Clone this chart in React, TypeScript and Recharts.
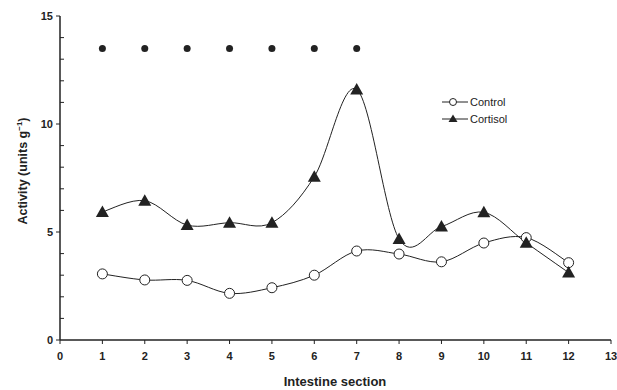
import React from 'react';
import { LineChart, Line, XAxis, YAxis, Legend, Label } from 'recharts';

const sections = [1, 2, 3, 4, 5, 6, 7, 8, 9, 10, 11, 12];
const control = [3.06, 2.78, 2.76, 2.16, 2.42, 3.0, 4.12, 3.98, 3.62, 4.49, 4.74, 3.58];
const cortisol = [5.93, 6.45, 5.32, 5.43, 5.43, 7.56, 11.6, 4.68, 5.25, 5.91, 4.5, 3.12];
const significant = [13.5, 13.5, 13.5, 13.5, 13.5, 13.5, 13.5, null, null, null, null, null];
const xTicks = [0, 1, 2, 3, 4, 5, 6, 7, 8, 9, 10, 11, 12, 13];
const yTicks = [0, 1, 2, 3, 4, 5, 6, 7, 8, 9, 10, 11, 12, 13, 14, 15];

const data = sections.map((s, i) => ({
  section: s,
  control: control[i],
  cortisol: cortisol[i],
  sig: significant[i],
}));

const FONT = '"Liberation Sans", Arial, Helvetica, sans-serif';
const INK = '#222';

// Excel-like smoothed line (Catmull-Rom turned into cubic beziers)
const smoothCurve = (context: any) => {
  let pts: number[][] = [];
  return {
    areaStart() {},
    areaEnd() {},
    lineStart() {
      pts = [];
    },
    point(x: number, y: number) {
      pts.push([+x, +y]);
    },
    lineEnd() {
      if (!pts.length) return;
      context.moveTo(pts[0][0], pts[0][1]);
      for (let i = 0; i < pts.length - 1; i++) {
        const p0 = pts[i - 1] || pts[i];
        const p1 = pts[i];
        const p2 = pts[i + 1];
        const p3 = pts[i + 2] || p2;
        context.bezierCurveTo(
          p1[0] + (p2[0] - p0[0]) / 6,
          p1[1] + (p2[1] - p0[1]) / 6,
          p2[0] - (p3[0] - p1[0]) / 6,
          p2[1] - (p3[1] - p1[1]) / 6,
          p2[0],
          p2[1]
        );
      }
    },
  };
};

const Triangle = (props: any) => {
  const { cx, cy } = props;
  if (cx == null || cy == null) return null;
  return <path d={`M${cx},${cy - 6.5}L${cx + 6.5},${cy + 5}L${cx - 6.5},${cy + 5}Z`} fill={INK} />;
};

const YTick = (props: any) => {
  const { x, y, payload } = props;
  const axisX = x + 7;
  const major = payload.value % 5 === 0;
  return (
    <g>
      <line
        x1={major ? axisX - 4 : axisX}
        x2={major ? axisX : axisX + 4}
        y1={y}
        y2={y}
        stroke={INK}
        strokeWidth={1}
      />
      {major && (
        <text x={x} y={y} dy="0.355em" textAnchor="end" fontSize={11} fontWeight="bold" fill={INK} fontFamily={FONT}>
          {payload.value}
        </text>
      )}
    </g>
  );
};

const YTitle = () => (
  <text
    transform="translate(26.5,171) rotate(-90)"
    textAnchor="middle"
    fontSize={12.5}
    fontWeight="bold"
    fill={INK}
    fontFamily={FONT}
  >
    Activity (units g
    <tspan fontSize={8} dy={-5}>−1</tspan>
    <tspan dy={5}>)</tspan>
  </text>
);

const XTitle = () => (
  <text x={335} y={386} textAnchor="middle" fontSize={13} fontWeight="bold" fill={INK} fontFamily={FONT}>
    Intestine section
  </text>
);

const LegendBox = () => (
  <svg width={90} height={34} style={{ display: 'block' }}>
    <line x1={2} x2={28} y1={8} y2={8} stroke={INK} strokeWidth={1} />
    <circle cx={13} cy={8} r={3.5} fill="#fff" stroke={INK} strokeWidth={1} />
    <text x={30} y={8} dy="0.355em" fontSize={11} fill={INK} fontFamily={FONT}>Control</text>
    <line x1={2} x2={28} y1={25} y2={25} stroke={INK} strokeWidth={1} />
    <path d="M13,20.5L17.5,28L8.5,28Z" fill={INK} />
    <text x={30} y={25} dy="0.355em" fontSize={11} fill={INK} fontFamily={FONT}>Cortisol</text>
  </svg>
);

export default function App() {
  return (
    <div style={{ position: 'absolute', left: 0, top: 0, background: '#fff' }}>
      <LineChart width={617} height={390} data={data} margin={{ top: 16, right: 6, bottom: 2, left: 0 }}>
        <XAxis
          type="number"
          dataKey="section"
          domain={[0, 13]}
          ticks={xTicks}
          interval={0}
          height={48}
          tickSize={4}
          tickMargin={8}
          axisLine={{ stroke: INK, strokeWidth: 1.5 }}
          tickLine={{ stroke: INK }}
          tick={{ fontSize: 11, fontWeight: 'bold', fill: INK, fontFamily: FONT }}
        >
          <Label content={XTitle} />
        </XAxis>
        <YAxis
          type="number"
          domain={[0, 15]}
          ticks={yTicks}
          interval={0}
          width={60}
          tickSize={4}
          tickMargin={3}
          axisLine={{ stroke: INK, strokeWidth: 1.5 }}
          tickLine={false}
          tick={YTick}
        >
          <Label content={YTitle} />
        </YAxis>
        <Legend
          layout="horizontal"
          align="center"
          verticalAlign="middle"
          content={LegendBox}
          wrapperStyle={{ position: 'absolute', left: 440, top: 94, width: 90, height: 34 }}
        />
        <Line
          dataKey="control"
          name="Control"
          type={smoothCurve as any}
          stroke={INK}
          strokeWidth={1}
          dot={{ r: 5, fill: '#fff', stroke: INK, strokeWidth: 1 }}
          isAnimationActive={false}
        />
        <Line
          dataKey="cortisol"
          name="Cortisol"
          type={smoothCurve as any}
          stroke={INK}
          strokeWidth={1}
          dot={<Triangle />}
          isAnimationActive={false}
        />
        <Line
          dataKey="sig"
          name="sig"
          stroke="none"
          legendType="none"
          dot={{ r: 3.5, fill: INK, stroke: 'none' }}
          isAnimationActive={false}
        />
      </LineChart>
    </div>
  );
}
